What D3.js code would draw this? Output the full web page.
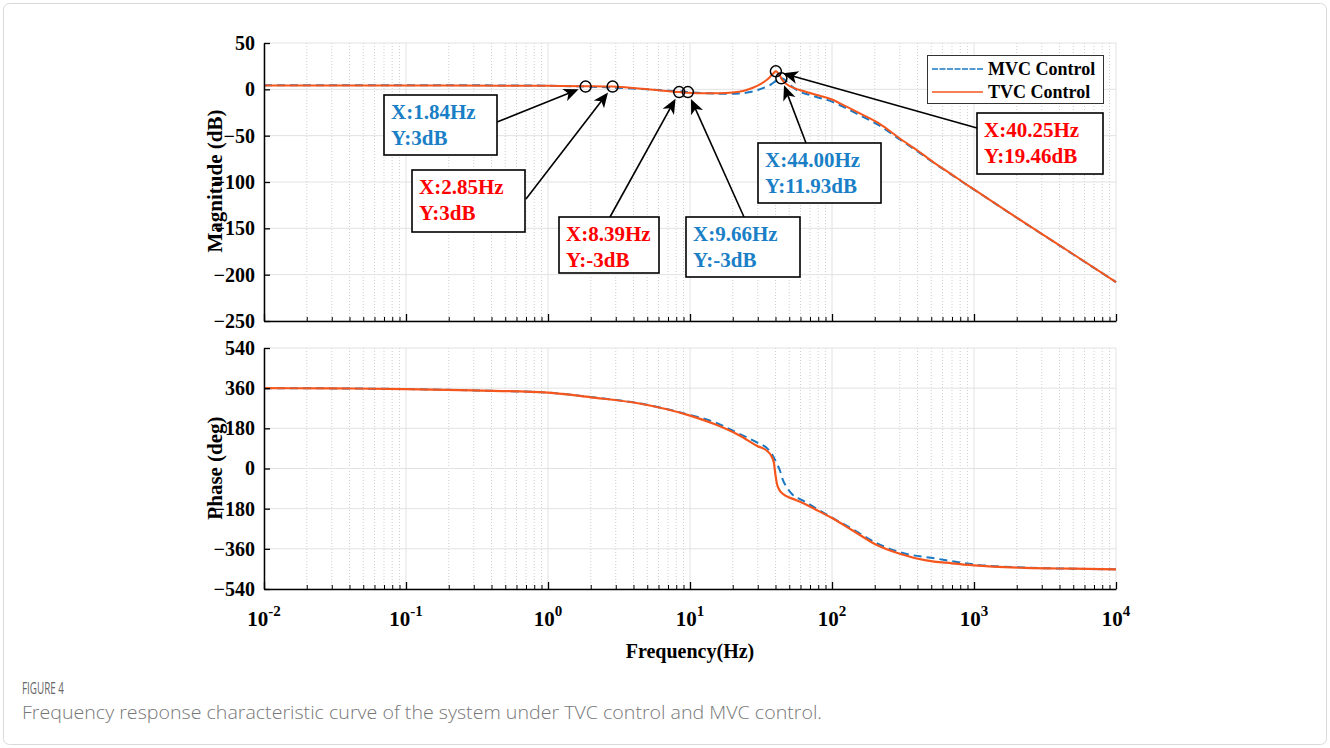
<!DOCTYPE html>
<html>
<head>
<meta charset="utf-8">
<script src="https://cdn.jsdelivr.net/npm/d3@7"></script>
<style>
  html, body { margin: 0; padding: 0; background: #fff; }
  svg { display: block; }
</style>
</head>
<body>
<svg id="chart" width="1330" height="748"></svg>
<script>
// ---- data -------------------------------------------------------------
const seriesNames = ["MVC Control", "TVC Control"];

// magnitude response, frequency in Hz / gain in dB
const mvcMagFreq = [0.01, 0.1, 0.5, 1, 1.84, 3, 5, 9.66, 13, 18, 22, 26.5, 30, 33, 36.6, 39, 41.9, 44, 46, 49, 52, 60, 70, 82, 100, 114, 157, 218, 300, 400, 517, 700, 887, 1000, 1524, 2000, 3000, 5000, 10000];
const mvcMagDb   = [4.4, 4.4, 4.2, 3.9, 3.0, 1.8, 0.0, -3.0, -4.2, -4.8, -4.5, -2.9, -0.8, 1.6, 4.6, 7.6, 11.0, 11.93, 10.8, 7.0, 3.2, -2.9, -6.2, -9.3, -13.2, -17.2, -28.0, -39.5, -54.0, -67.0, -79.0, -92.5, -103.0, -108.2, -126.6, -138.6, -156.1, -178.2, -208.0];

const tvcMagFreq = [0.01, 0.1, 0.5, 1, 1.84, 2.85, 4, 5.5, 8.39, 12, 16, 20, 24, 28, 32, 35, 38, 40.25, 42, 45, 48, 55, 60, 70, 82, 100, 114, 157, 218, 300, 400, 517, 700, 887, 1000, 1524, 2000, 3000, 5000, 10000];
const tvcMagDb   = [4.2, 4.2, 4.0, 3.8, 3.4, 3.0, 1.5, -0.5, -3.0, -4.2, -4.3, -3.5, -1.5, 2.0, 6.5, 10.5, 16.0, 19.46, 17.0, 9.5, 5.5, 1.0, -1.0, -4.0, -7.0, -11.0, -15.2, -26.0, -37.5, -53.0, -66.0, -78.5, -92.0, -102.8, -108.0, -126.5, -138.5, -156.0, -178.0, -208.0];

// phase response, frequency in Hz / phase in degrees
const mvcPhaseFreq = [0.01, 0.03, 0.1, 0.3, 1, 2, 4.5, 10, 15, 22, 30, 35, 38, 41, 43, 45, 48, 52, 60, 66, 80, 100, 140, 200, 300, 545, 1000, 2300, 5000, 10000];
const mvcPhaseDeg  = [360, 359, 356, 350, 340, 320, 291, 240, 207, 157, 115, 90, 62, 20, -9, -50, -84, -113, -138, -152, -185, -220, -272, -330, -375, -404, -430, -444, -449, -452];

const tvcPhaseFreq = [0.01, 0.03, 0.1, 0.3, 1, 2, 4.5, 10, 15, 22, 30, 35, 37.5, 39, 40, 41, 42.5, 45, 50, 55, 65, 80, 100, 140, 200, 300, 460, 700, 1000, 2300, 5000, 10000];
const tvcPhaseDeg  = [360, 359, 356, 350, 340, 319, 290, 237, 198, 150, 100, 78, 55, 25, -30, -70, -95, -113, -130, -140, -160, -190, -222, -278, -338, -382, -412, -425, -434, -445, -449, -452];

// data-tip annotations (series index, frequency Hz, gain dB)
const tipSeries = [0, 1, 1, 0, 0, 1];
const tipFreq   = [1.84, 2.85, 8.39, 9.66, 44.00, 40.25];
const tipDb     = [3, 3, -3, -3, 11.93, 19.46];
const tipFreqText = ["1.84", "2.85", "8.39", "9.66", "44.00", "40.25"];
const tipDbText   = ["3", "3", "-3", "-3", "11.93", "19.46"];

// tick values
const magTicks   = [-250, -200, -150, -100, -50, 0, 50];
const phaseTicks = [-540, -360, -180, 0, 180, 360, 540];
const decadeTicks = [1e-2, 1e-1, 1e0, 1e1, 1e2, 1e3, 1e4];
const decadeExp   = ["-2", "-1", "0", "1", "2", "3", "4"];

// ---- layout -----------------------------------------------------------
const svg = d3.select("#chart");
const serif = "'Liberation Serif', 'Times New Roman', serif";
const sans = "'Open Sans', 'Noto Sans', sans-serif";
const colors = ["#1a78c2", "#f5561d"];
const left = 264, right = 1116;

const x = d3.scaleLog().domain([1e-2, 1e4]).range([left, right]);
const yMag = d3.scaleLinear().domain([-250, 50]).range([321, 43]);
const yPh = d3.scaleLinear().domain([-540, 540]).range([589, 348]);

// outer frame
svg.append("rect")
  .attr("x", 3.5).attr("y", 3.5).attr("width", 1323).attr("height", 741)
  .attr("rx", 6).attr("fill", "#fff").attr("stroke", "#d9d9d9");

// minor tick positions (2..9 in every decade)
const minorTicks = [];
decadeTicks.slice(0, -1).forEach(d => { for (let k = 2; k <= 9; k++) minorTicks.push(d * k); });

function panel(y, ticks) {
  const g = svg.append("g");
  const [y0, y1] = y.range();
  g.selectAll(".minor").data(minorTicks).join("line")
    .attr("x1", d => x(d)).attr("x2", d => x(d))
    .attr("y1", y1).attr("y2", y0)
    .attr("stroke", "#cfcfcf").attr("stroke-width", 1).attr("stroke-dasharray", "1,2");
  g.selectAll(".major").data(decadeTicks).join("line")
    .attr("x1", d => x(d)).attr("x2", d => x(d))
    .attr("y1", y1).attr("y2", y0)
    .attr("stroke", "#e2e2e2").attr("stroke-width", 1);
  g.selectAll(".hgrid").data(ticks).join("line")
    .attr("x1", left).attr("x2", right)
    .attr("y1", d => y(d)).attr("y2", d => y(d))
    .attr("stroke", "#e2e2e2").attr("stroke-width", 1);
  return g;
}

function axes(g, y, ticks, showX) {
  const [y0] = y.range();
  // left axis with inward ticks
  const ya = g.append("g").attr("transform", `translate(${left},0)`)
    .call(d3.axisLeft(y).tickValues(ticks).tickSizeInner(-6).tickSizeOuter(0).tickPadding(9));
  ya.select(".domain").attr("stroke", "#000").attr("stroke-width", 1.5);
  ya.selectAll(".tick line").attr("stroke", "#000").attr("stroke-width", 1.3);
  ya.selectAll(".tick text").attr("font-family", serif).attr("font-weight", "bold")
    .attr("font-size", 20).attr("fill", "#000");

  // bottom axis: minor ticks then decade ticks, all pointing inward
  const xmin = g.append("g").attr("transform", `translate(0,${y0})`)
    .call(d3.axisBottom(x).tickValues(minorTicks).tickSizeInner(-4).tickSizeOuter(0).tickFormat(""));
  xmin.select(".domain").remove();
  xmin.selectAll(".tick line").attr("stroke", "#000").attr("stroke-width", 1);
  const xa = g.append("g").attr("transform", `translate(0,${y0})`)
    .call(d3.axisBottom(x).tickValues(decadeTicks).tickSizeInner(-7).tickSizeOuter(0).tickFormat(""));
  xa.select(".domain").attr("stroke", "#000").attr("stroke-width", 1.5);
  xa.selectAll(".tick line").attr("stroke", "#000").attr("stroke-width", 1.3);

  if (showX) {
    const lab = g.append("g");
    decadeTicks.forEach((d, i) => {
      const t = lab.append("text")
        .attr("x", x(d)).attr("y", y0 + 37)
        .attr("text-anchor", "middle")
        .attr("font-family", serif).attr("font-weight", "bold").attr("font-size", 21)
        .attr("fill", "#000");
      t.append("tspan").text("10");
      t.append("tspan").attr("dy", -10).attr("font-size", 15).text(decadeExp[i]);
    });
  }
}

const line = (y) => d3.line().x(d => x(d[0])).y(d => y(d[1])).curve(d3.curveMonotoneX);
const zip = (a, b) => a.map((v, i) => [v, b[i]]);

// ---- magnitude panel ----
const gMag = panel(yMag, magTicks);
gMag.append("path").datum(zip(mvcMagFreq, mvcMagDb))
  .attr("d", line(yMag)).attr("fill", "none")
  .attr("stroke", colors[0]).attr("stroke-width", 2).attr("stroke-dasharray", "8,5");
gMag.append("path").datum(zip(tvcMagFreq, tvcMagDb))
  .attr("d", line(yMag)).attr("fill", "none")
  .attr("stroke", colors[1]).attr("stroke-width", 2);
axes(gMag, yMag, magTicks, false);

// ---- phase panel ----
const gPh = panel(yPh, phaseTicks);
gPh.append("path").datum(zip(mvcPhaseFreq, mvcPhaseDeg))
  .attr("d", line(yPh)).attr("fill", "none")
  .attr("stroke", colors[0]).attr("stroke-width", 2).attr("stroke-dasharray", "8,5");
gPh.append("path").datum(zip(tvcPhaseFreq, tvcPhaseDeg))
  .attr("d", line(yPh)).attr("fill", "none")
  .attr("stroke", colors[1]).attr("stroke-width", 2.2);
axes(gPh, yPh, phaseTicks, true);

// axis titles
svg.append("text").attr("transform", "translate(222,181) rotate(-90)")
  .attr("text-anchor", "middle").attr("font-family", serif).attr("font-weight", "bold")
  .attr("font-size", 21).text("Magnitude (dB)");
svg.append("text").attr("transform", "translate(222,468) rotate(-90)")
  .attr("text-anchor", "middle").attr("font-family", serif).attr("font-weight", "bold")
  .attr("font-size", 21).text("Phase (deg)");
svg.append("text").attr("x", 690).attr("y", 658)
  .attr("text-anchor", "middle").attr("font-family", serif).attr("font-weight", "bold")
  .attr("font-size", 20).text("Frequency(Hz)");

// ---- legend ----
const lg = svg.append("g");
lg.append("rect").attr("x", 927.5).attr("y", 55.5).attr("width", 176).attr("height", 48)
  .attr("fill", "#fff").attr("stroke", "#333").attr("stroke-width", 1);
seriesNames.forEach((name, i) => {
  const yy = 69 + i * 23;
  lg.append("line").attr("x1", 932).attr("x2", 983).attr("y1", yy).attr("y2", yy)
    .attr("stroke", colors[i]).attr("stroke-width", 1.3)
    .attr("stroke-dasharray", i === 0 ? "6,1.5" : null);
  lg.append("text").attr("x", 988).attr("y", yy + 6)
    .attr("font-family", serif).attr("font-weight", "bold").attr("font-size", 18)
    .text(name);
});

// ---- data tips ----
// text box placement: [x, y, w, h] and arrow tail point
const tipBoxes = [
  { box: [384, 95, 113, 60],  tail: [497, 122] },
  { box: [412, 170, 113, 62], tail: [526, 199] },
  { box: [559, 217, 100, 56], tail: [610, 217] },
  { box: [686, 217, 114, 60], tail: [744, 217] },
  { box: [758, 143, 123, 60], tail: [806, 143] },
  { box: [977, 113, 126, 61], tail: [977, 128] }
];
const tipColors = ["#1a7fc6", "#ff0000"];
const tg = svg.append("g");
const r = 5.5;

tipFreq.forEach((f, i) => {
  const cx = x(f), cy = yMag(tipDb[i]);
  const L = tipBoxes[i];
  tg.append("circle").attr("cx", cx).attr("cy", cy).attr("r", r)
    .attr("fill", "none").attr("stroke", "#000").attr("stroke-width", 1.5);
  // arrow from the box to the marker
  const [tx, ty] = L.tail;
  const dx = cx - tx, dy = cy - ty, len = Math.hypot(dx, dy);
  const ux = dx / len, uy = dy / len;
  const hx = cx - ux * (r + 2), hy = cy - uy * (r + 2);
  const hl = 15, hw = 6.5, notch = 4;
  const bx = hx - ux * hl, by = hy - uy * hl;
  tg.append("line").attr("x1", tx).attr("y1", ty)
    .attr("x2", hx - ux * 6).attr("y2", hy - uy * 6)
    .attr("stroke", "#000").attr("stroke-width", 1.6);
  const px = -uy, py = ux;
  tg.append("path")
    .attr("d", `M${hx},${hy} L${bx + px * hw},${by + py * hw} L${bx + ux * notch},${by + uy * notch} L${bx - px * hw},${by - py * hw} Z`)
    .attr("fill", "#000");
  // text box
  const [bxx, byy, bw, bh] = L.box;
  tg.append("rect").attr("x", bxx).attr("y", byy).attr("width", bw).attr("height", bh)
    .attr("fill", "#fff").attr("stroke", "#000").attr("stroke-width", 1.6);
  const col = tipColors[tipSeries[i]];
  tg.append("text").attr("x", bxx + 7).attr("y", byy + 24)
    .attr("font-family", serif).attr("font-weight", "bold").attr("font-size", 21)
    .attr("fill", col).text(`X:${tipFreqText[i]}Hz`);
  tg.append("text").attr("x", bxx + 7).attr("y", byy + 50)
    .attr("font-family", serif).attr("font-weight", "bold").attr("font-size", 21)
    .attr("fill", col).text(`Y:${tipDbText[i]}dB`);
});

// ---- caption ----
svg.append("text").attr("x", 22).attr("y", 694)
  .attr("font-family", sans).attr("font-size", 15.5)
  .attr("textLength", 42).attr("lengthAdjust", "spacingAndGlyphs")
  .attr("fill", "#666").text("FIGURE 4");
svg.append("text").attr("x", 22).attr("y", 719)
  .attr("font-family", sans).attr("font-size", 18).attr("font-weight", 300)
  .attr("textLength", 800).attr("lengthAdjust", "spacingAndGlyphs")
  .attr("fill", "#777").text("Frequency response characteristic curve of the system under TVC control and MVC control.");
</script>
</body>
</html>
